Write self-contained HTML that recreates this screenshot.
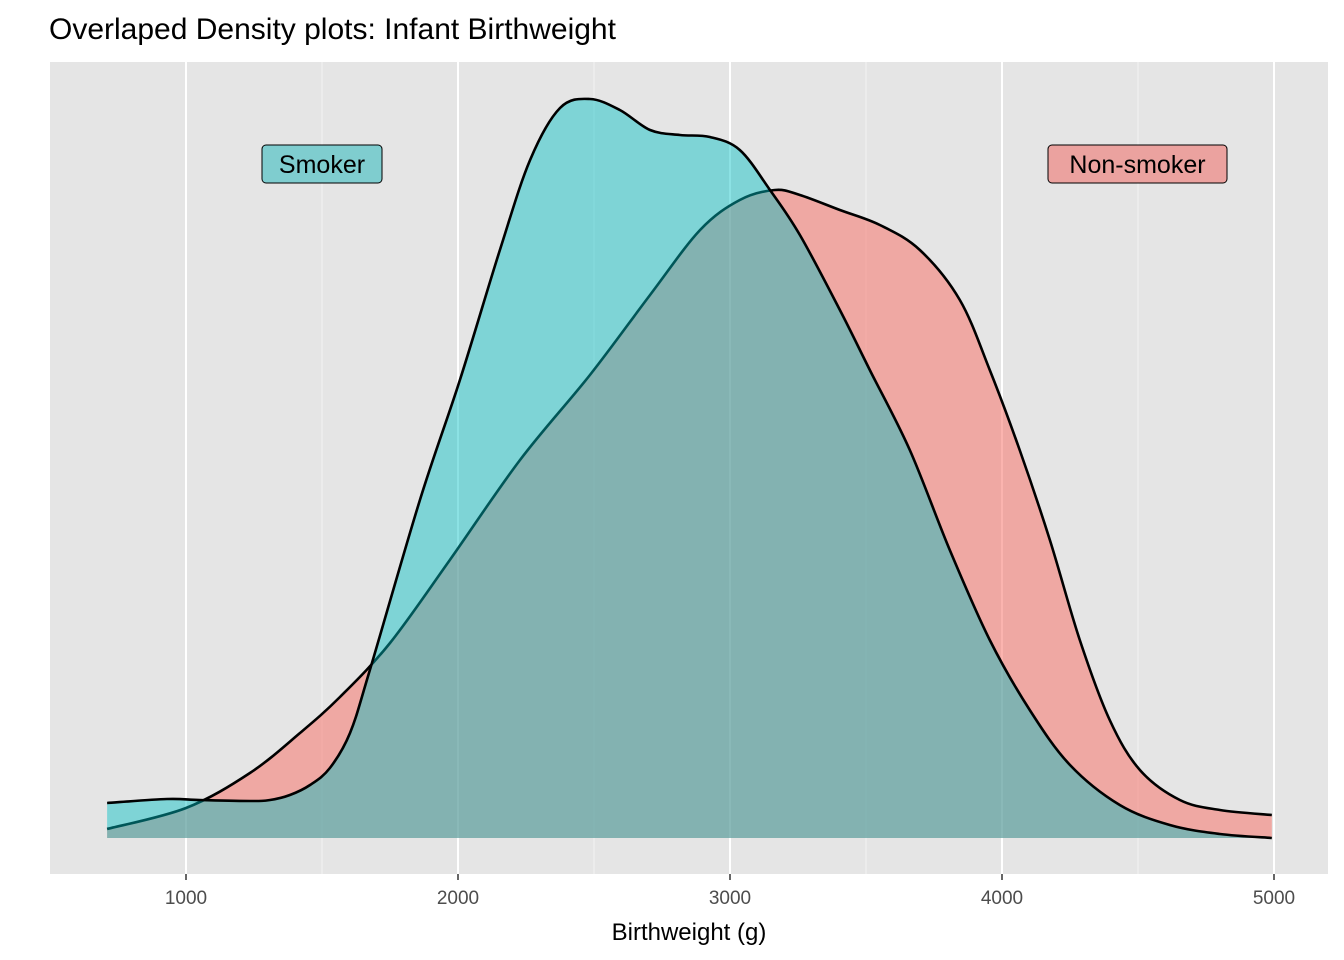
<!DOCTYPE html>
<html><head><meta charset="utf-8"><style>
html,body{margin:0;padding:0;background:#fff;}
svg{display:block;font-family:"Liberation Sans",Arial,sans-serif;}
</style></head><body>
<svg id="chart" width="1344" height="960" viewBox="0 0 1344 960">
<text x="49" y="39" font-size="30" fill="#000">Overlaped Density plots: Infant Birthweight</text>
<rect x="50" y="62" width="1278" height="812" fill="#E5E5E5"/>
<g id="grid"></g>
<g id="series"></g>
<g id="xaxis"></g>
<text x="689" y="940" font-size="24" text-anchor="middle" fill="#000">Birthweight (g)</text>
<g>
<rect x="262" y="145" width="120" height="38" rx="4" fill="#7FCDCF" stroke="#000" stroke-width="1"/>
<text x="322" y="173" font-size="25" text-anchor="middle" fill="#000">Smoker</text>
</g>
<g>
<rect x="1048" y="145" width="179" height="38" rx="4" fill="#EBA29F" stroke="#000" stroke-width="1"/>
<text x="1137.5" y="173" font-size="25" text-anchor="middle" fill="#000">Non-smoker</text>
</g>
</svg>
<script>
const majorTicks=[1000,2000,3000,4000,5000];
const minorTicks=[1500,2500,3500,4500];
const smokerX=[710,930,1051,1235,1309,1382,1456,1529,1603,1676,1860,2007,2154,2265,2375,2485,2595,2706,2816,2926,3036,3147,3257,3404,3514,3661,3808,3955,4102,4250,4433,4617,4801,4992];
const smokerD=[0.35,0.39,0.38,0.37,0.38,0.43,0.53,0.70,1.05,1.68,3.38,4.58,5.88,6.78,7.30,7.39,7.28,7.08,7.03,7.01,6.88,6.48,6.03,5.28,4.68,3.88,2.88,1.98,1.28,0.73,0.33,0.13,0.04,0.0];
const nonX=[710,1000,1235,1419,1566,1750,1970,2228,2485,2706,2890,3036,3165,3257,3404,3551,3698,3845,3955,4065,4176,4286,4396,4507,4654,4801,4992];
const nonD=[0.09,0.30,0.65,1.05,1.41,1.95,2.78,3.78,4.63,5.43,6.08,6.38,6.48,6.43,6.28,6.13,5.88,5.38,4.68,3.88,2.98,1.98,1.18,0.68,0.38,0.28,0.23];

const NS='http://www.w3.org/2000/svg';
const xs=v=>186+(v-1000)*0.272;
const ys=d=>838-d*100;
function mk(tag,attrs,parent){const e=document.createElementNS(NS,tag);for(const k in attrs)e.setAttribute(k,attrs[k]);parent.appendChild(e);return e;}
const grid=document.getElementById('grid');
minorTicks.forEach(t=>{
  const l=mk('line',{x1:xs(t),x2:xs(t),y1:62,y2:874,stroke:'#F2F2F2','stroke-width':1},grid);
  
  
});
majorTicks.forEach(t=>{
  const l=mk('line',{x1:xs(t),x2:xs(t),y1:62,y2:874,stroke:'#FFFFFF','stroke-width':2},grid);
  
  
});
const xa=document.getElementById('xaxis');
majorTicks.forEach(t=>{
  const l=mk('line',{x1:xs(t),x2:xs(t),y1:874,y2:880,stroke:'#333','stroke-width':1.5},xa);
  
  
  const tx=mk('text',{x:xs(t),y:904,'font-size':19,'text-anchor':'middle',fill:'#4D4D4D'},xa);
  tx.textContent=t;
  
  
});
function curve(X,D){
  const p=X.map((x,i)=>[xs(x),ys(D[i])]);
  let s='M'+p[0][0]+','+p[0][1];
  for(let i=0;i<p.length-1;i++){
    const p0=p[Math.max(0,i-1)],p1=p[i],p2=p[i+1],p3=p[Math.min(p.length-1,i+2)];
    const c1=[p1[0]+(p2[0]-p0[0])/6,p1[1]+(p2[1]-p0[1])/6];
    const c2=[p2[0]-(p3[0]-p1[0])/6,p2[1]-(p3[1]-p1[1])/6];
    s+=' C'+c1[0]+','+c1[1]+' '+c2[0]+','+c2[1]+' '+p2[0]+','+p2[1];
  }
  return {s,first:p[0][0],last:p[p.length-1][0]};
}
const sg=document.getElementById('series');
function draw(X,D,color,op,name){
  const c=curve(X,D);
  const f=mk('path',{d:c.s+' L'+c.last+',838 L'+c.first+',838 Z',fill:color,'fill-opacity':op,stroke:'none'},sg);
  
  
  const l=mk('path',{d:c.s,fill:'none',stroke:'#000','stroke-width':2.6},sg);
  
  
}
draw(nonX,nonD,'#F8766D',0.55,'non-smoker');
draw(smokerX,smokerD,'#00BFC4',0.45,'smoker');
</script>
</body></html>
